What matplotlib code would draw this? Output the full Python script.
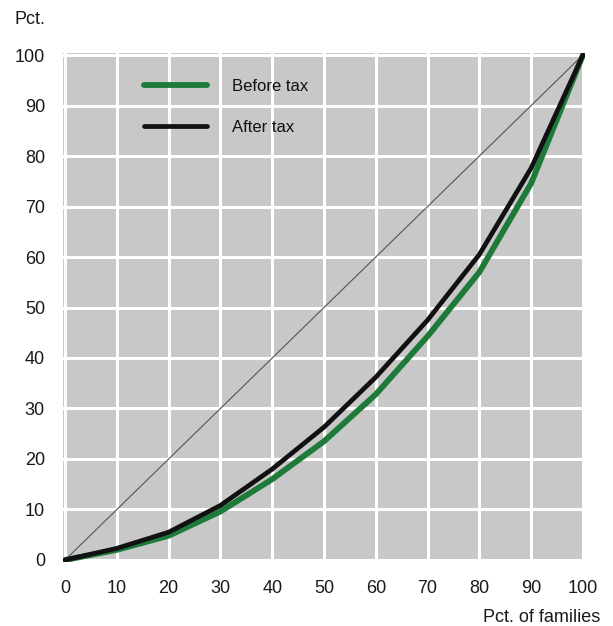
import matplotlib
matplotlib.use("Agg")
import matplotlib.pyplot as plt

# Cumulative share of families (x) vs cumulative share of income (y)
pct_families = [0, 10, 20, 30, 40, 50, 60, 70, 80, 90, 100]
before_tax = [0, 2.0, 4.8, 9.6, 16.0, 23.5, 32.8, 44.3, 57.0, 74.6, 100]
after_tax = [0, 2.3, 5.5, 10.8, 18.0, 26.3, 36.2, 47.5, 60.5, 77.6, 100]
equality = [0, 100]

tick_values = list(range(0, 101, 10))
series_labels = ["Before tax", "After tax"]

plt.rcParams["font.family"] = ["Liberation Sans", "DejaVu Sans"]

fig = plt.figure(figsize=(6.13, 6.26), dpi=100)
ax = fig.add_axes([63 / 613, 1 - 562 / 626, 522 / 613, 509 / 626])

ax.set_facecolor("#c8c8c8")
ax.set_xlim(-0.4, 100.4)
ax.set_ylim(-0.4, 100.4)
ax.set_xticks(tick_values)
ax.set_yticks(tick_values)
ax.grid(True, color="white", linewidth=2.2)
ax.set_axisbelow(True)
for s in ax.spines.values():
    s.set_visible(False)
ax.tick_params(length=0, labelsize=13, colors="#1a1a1a", pad=13)

# Line of perfect equality
ax.plot(equality, equality, color="#555555", linewidth=0.8, zorder=2)

# Lorenz curves
ax.plot(pct_families, before_tax, color="#1e7a38", linewidth=4.2,
        solid_capstyle="round", solid_joinstyle="round", zorder=3,
        label=series_labels[0])
ax.plot(pct_families, after_tax, color="#111111", linewidth=3.4,
        solid_capstyle="round", solid_joinstyle="round", zorder=4,
        label=series_labels[1])

leg = ax.legend(loc="upper left", bbox_to_anchor=(0.126, 0.978),
                frameon=False, fontsize=12, handlelength=3.8,
                handletextpad=1.5, labelspacing=1.55)
for t in leg.get_texts():
    t.set_color("#111111")

fig.text(15 / 613, 1 - 20 / 626, "Pct.", fontsize=13, color="#1a1a1a",
         va="center", ha="left")
fig.text(600 / 613, 1 - 617 / 626, "Pct. of families", fontsize=13,
         color="#1a1a1a", va="center", ha="right")

fig.savefig("out.png", dpi=100, facecolor="white")
